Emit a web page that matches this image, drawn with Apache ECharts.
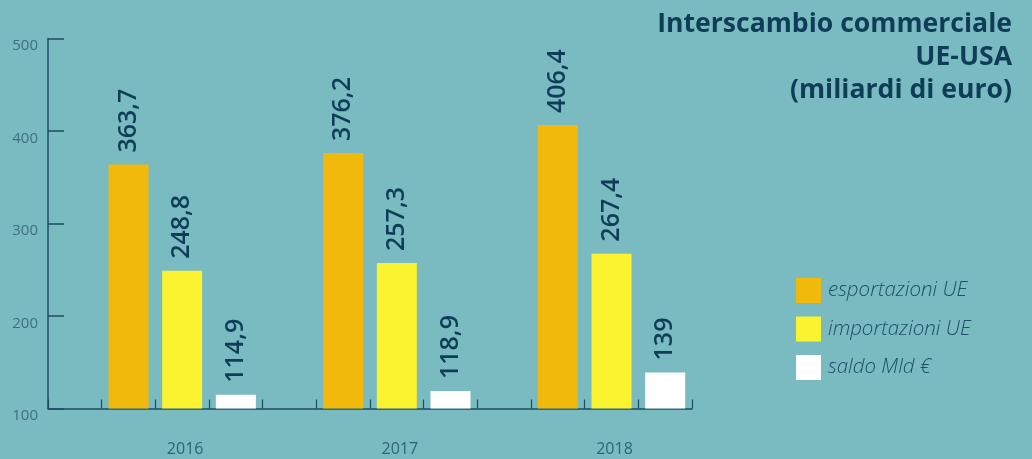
<!DOCTYPE html>
<html>
<head>
<meta charset="utf-8">
<script src="https://cdn.jsdelivr.net/npm/echarts@6/dist/echarts.min.js"></script>
<style>
    html, body { margin: 0; padding: 0; background: #79bbc1; }
    #chart { width: 1032px; height: 459px; }
</style>
</head>
<body>
<div id="chart"></div>
<script>
    // dati
    var years = ['2016', '2017', '2018'];
    var esportazioni = [363.7, 376.2, 406.4];
    var importazioni = [248.8, 257.3, 267.4];
    var saldo = [114.9, 118.9, 139];
    var seriesNames = ['esportazioni UE', 'importazioni UE', 'saldo Mld €'];
    var yTicks = [100, 200, 300, 400, 500];

    // ogni barra ha il suo slot, con uno slot vuoto prima di ogni anno
    var slots = [];
    var slotYear = [];
    years.forEach(function (y) {
        slots.push('gap-' + y, y + '-esp', y + '-imp', y + '-sal');
        slotYear.push('', '', y, '');
    });
    function slotData(values, offset) {
        var out = slots.map(function () { return '-'; });
        values.forEach(function (v, i) { out[i * 4 + offset] = v; });
        return out;
    }

    var dark = '#0f3d58';
    var colors = ['#f0b90c', '#fbf230', '#ffffff'];

    var labelStyle = {
        show: true,
        position: 'top',
        rotate: 90,
        align: 'left',
        verticalAlign: 'middle',
        distance: 12,
        color: dark,
        fontFamily: 'Open Sans',
        fontSize: 25,
        fontWeight: 600,
        formatter: function (p) { return String(p.value).replace('.', ','); }
    };

    var chart = echarts.init(document.getElementById('chart'));
    chart.setOption({
        backgroundColor: '#79bbc1',
        animation: false,
        title: {
            text: 'Interscambio commerciale\nUE-USA\n(miliardi di euro)',
            left: 1012,
            top: 8,
            textAlign: 'right',
            padding: 0,
            textStyle: {
                color: dark,
                fontFamily: 'Open Sans',
                fontSize: 26.6,
                fontWeight: 'bold',
                lineHeight: 33,
                align: 'right'
            }
        },
        legend: {
            orient: 'vertical',
            left: 791,
            top: 273,
            itemWidth: 25,
            itemGap: 13.5,
            itemHeight: 25,
            icon: 'rect',
            data: seriesNames,
            textStyle: {
                color: '#1e4f68',
                fontFamily: 'Open Sans',
                fontSize: 20.5,
                fontStyle: 'italic',
                fontWeight: 300,
                padding: [0, 0, 0, 2]
            }
        },
        grid: {
            left: 48,
            right: 340,
            top: 38.5,
            bottom: 50.5
        },
        xAxis: {
            type: 'category',
            data: slots,
            axisLine: { lineStyle: { color: '#1d4d64', width: 1.5 } },
            axisTick: {
                show: true,
                inside: true,
                length: 9,
                interval: 0,
                lineStyle: { color: '#1d4d64', width: 1.2 }
            },
            axisLabel: {
                interval: 0,
                margin: 33,
                color: '#2e6479',
                fontFamily: 'Open Sans',
                fontSize: 16,
                padding: [0, 0, 0, 6],
                formatter: function (v, i) { return slotYear[i]; }
            }
        },
        yAxis: {
            type: 'value',
            min: yTicks[0],
            max: yTicks[yTicks.length - 1],
            interval: 100,
            splitLine: { show: false },
            axisLine: { show: true, lineStyle: { color: '#1d4d64', width: 1.5 } },
            axisTick: {
                show: true,
                inside: true,
                length: 16,
                lineStyle: { color: '#1d4d64', width: 1.5 }
            },
            axisLabel: {
                margin: 10,
                color: '#3f7082',
                fontFamily: 'Open Sans',
                fontSize: 15,
                verticalAlign: 'top'
            }
        },
        series: [esportazioni, importazioni, saldo].map(function (vals, k) {
            return {
                name: seriesNames[k],
                type: 'bar',
                barWidth: 40,
                barGap: '-100%',
                itemStyle: { color: colors[k] },
                label: labelStyle,
                data: slotData(vals, k + 1)
            };
        })
    });
</script>
</body>
</html>
